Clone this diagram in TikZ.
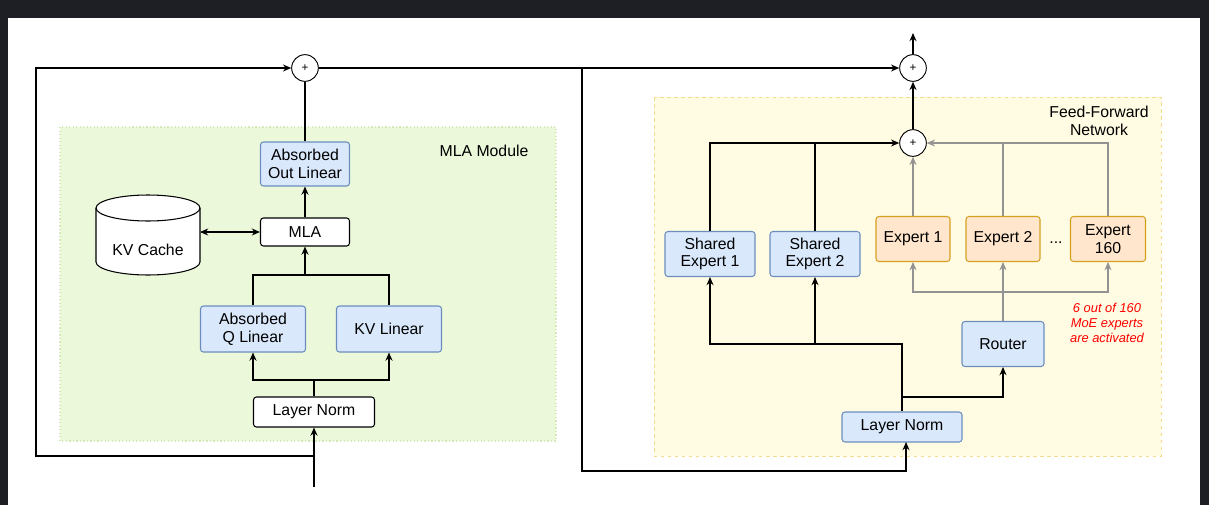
\documentclass[tikz,border=0pt]{standalone}
\usepackage{fontspec}
\setmainfont{Liberation Sans}
\usepackage{tikz}
\usetikzlibrary{arrows.meta}
\definecolor{frameclr}{HTML}{1E1F24}
\definecolor{blueF}{HTML}{DAE8FC}
\definecolor{blueD}{HTML}{6C8EBF}
\definecolor{orngF}{HTML}{FFE6CC}
\definecolor{orngD}{HTML}{D6A020}
\definecolor{greenF}{HTML}{EBF8DA}
\definecolor{greenD}{HTML}{D5E8B8}
\definecolor{yellF}{HTML}{FFFCE3}
\definecolor{yellD}{HTML}{F2DC8C}
\tikzset{
    block/.style = {
        draw, rounded corners=2.5pt, align=center, line width=0.9pt,
        font=\fontsize{13.5}{15}\selectfont, inner sep=1pt,
    },
    plain/.style  = {block, fill=white, draw=black},
    linear/.style = {block, fill=blueF, draw=blueD},
    expert/.style = {block, fill=orngF, draw=orngD},
    adder/.style  = {draw, circle, fill=white, line width=0.8pt,
        minimum size=0.8cm, inner sep=0pt, font=\normalsize},
    label/.style  = {align=center, font=\fontsize{13.5}{15}\selectfont},
    flow/.style   = {line width=0.9pt, -{Stealth[length=7pt,width=6pt]}},
    link/.style   = {line width=0.9pt},
    gflow/.style  = {flow, draw=gray!85},
    glink/.style  = {link, draw=gray!85},
}

\begin{document}
\begin{tikzpicture}[x=0.03cm, y=-0.03cm]
        \useasboundingbox (0,0) rectangle (1209,505);
        \fill [frameclr] (0,0) rectangle (1209,505);
        \fill [white] (8,18) rectangle (1200,505);

        % module backgrounds
        \draw [fill=greenF, draw=greenD, dotted, line width=1pt] (60,127) rectangle (556,441);
        \node at (484,151) (mlaLabel) [label] {MLA Module};
        \draw [fill=yellF, draw=yellD, dashed, line width=0.8pt] (654,97) rectangle (1161,456);
        \node at (1099,121) (ffnLabel) [label] {Feed-Forward\\Network};

        % attention side
        \node at (305,68) (add1) [adder] {+};
        \node at (314,412) (lnA) [plain, minimum width=3.63cm, minimum height=0.9cm] {Layer Norm};
        \node at (253,329) (qLin) [linear, minimum width=3.15cm, minimum height=1.38cm] {Absorbed\\Q Linear};
        \node at (389,329) (kvLin) [linear, minimum width=3.15cm, minimum height=1.38cm] {KV Linear};
        \node at (305,232) (mla) [plain, minimum width=2.67cm, minimum height=0.84cm] {MLA};
        \node at (305,164) (outLin) [linear, minimum width=2.67cm, minimum height=1.32cm] {Absorbed\\Out Linear};

        % kv cache drum
        \draw [fill=white, line width=0.9pt] (96,208) -- (96,262) arc [start angle=180, end angle=360, x radius=52, y radius=-13]
            -- (200,208) arc [start angle=0, end angle=180, x radius=52, y radius=-13] -- cycle;
        \draw [line width=0.9pt] (96,208) arc [start angle=180, end angle=360, x radius=52, y radius=-13];
        \node at (148,250) (cache) [label] {KV Cache};
        \coordinate (cacheR) at (200,232);

        \coordinate (inA) at (314,487);
        \coordinate (loopA) at (36,456);
        \draw [flow] (inA) -- (lnA.south);
        \draw [flow] (314,456) -- (loopA) |- (add1.west);
        \draw [flow] (lnA.north) -- (314,380) -| (qLin.south);
        \draw [flow] (314,380) -| (kvLin.south);
        \draw [link] (qLin.north) |- (389,275) -- (kvLin.north);
        \draw [flow] (305,275) -- (mla.south);
        \draw [{Stealth[length=7pt,width=6pt]}-{Stealth[length=7pt,width=6pt]}, line width=0.9pt] (cacheR) -- (mla.west);
        \draw [flow] (mla.north) -- (outLin.south);
        \draw [link] (outLin.north) -- (add1.south);

        % feed-forward side
        \node at (913,68) (add2) [adder] {+};
        \node at (913,143) (add3) [adder] {+};
        \node at (902,427) (lnF) [linear, minimum width=3.6cm, minimum height=0.9cm] {Layer Norm};
        \node at (710,254) (shared1) [linear, minimum width=2.7cm, minimum height=1.35cm] {Shared\\Expert 1};
        \node at (815,254) (shared2) [linear, minimum width=2.7cm, minimum height=1.35cm] {Shared\\Expert 2};
        \node at (913,239) (exp1) [expert, minimum width=2.22cm, minimum height=1.35cm] {Expert 1};
        \node at (1003,239) (exp2) [expert, minimum width=2.22cm, minimum height=1.35cm] {Expert 2};
        \node at (1108,239) (exp160) [expert, minimum width=2.25cm, minimum height=1.35cm] {Expert\\160};
        \node at (1056,243) (dots) [label] {...};
        \node at (1003,344) (router) [linear, minimum width=2.46cm, minimum height=1.35cm] {Router};
        \node at (1107,323) (note) [align=center, text=red, font=\fontsize{11}{13}\selectfont\itshape] {6 out of 160\\MoE experts\\are activated};

        \coordinate (outF) at (913,33);
        \draw [link] (add1.east) -- (582,68);
        \draw [flow] (582,68) -- (add2.west);
        \draw [flow] (582,68) |- (906,471) -- (906,442);
        \draw [flow] (add2.north) -- (outF);
        \draw [flow] (add3.north) -- (add2.south);
        \draw [flow] (lnF.north) |- (710,344) -- (shared1.south);
        \draw [flow] (815,344) -- (shared2.south);
        \draw [flow] (902,397) -| (router.south);
        \draw [flow] (shared1.north) |- (add3.west);
        \draw [link] (shared2.north) -- (815,143);
        \draw [gflow] (router.north) -- (exp2.south);
        \draw [gflow] (1003,292) -| (exp1.south);
        \draw [gflow] (1003,292) -| (exp160.south);
        \draw [gflow] (exp1.north) -- (add3.south);
        \draw [gflow] (exp160.north) |- (add3.east);
        \draw [glink] (exp2.north) -- (1003,143);
\end{tikzpicture}
\end{document}
